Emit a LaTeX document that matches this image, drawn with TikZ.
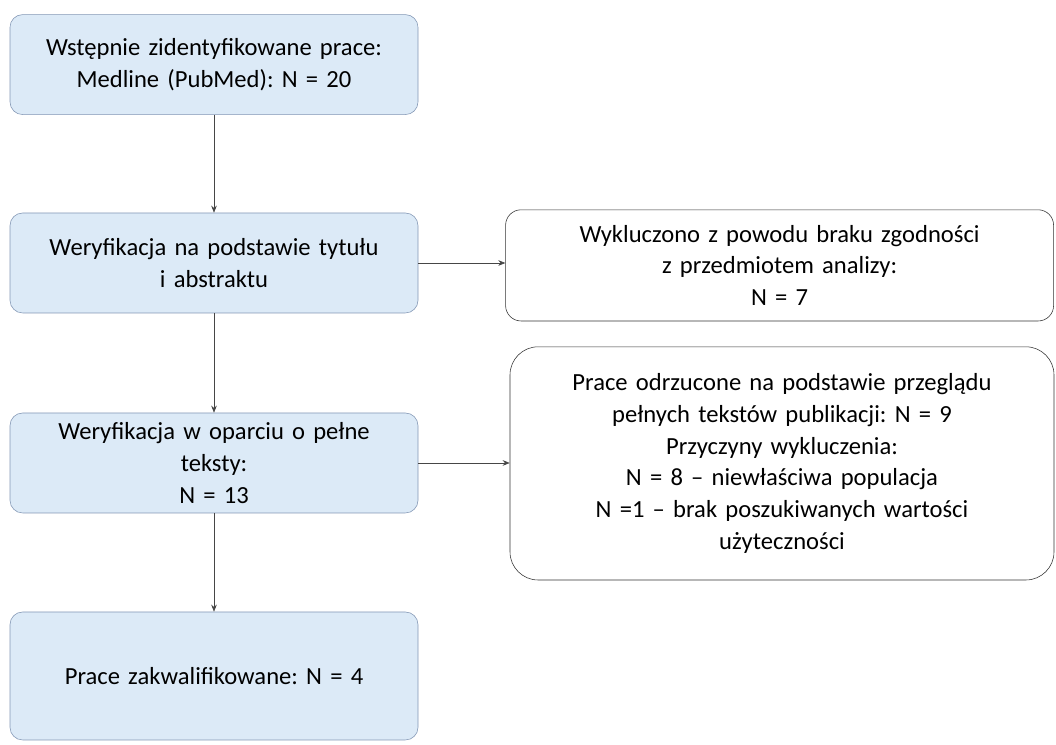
\documentclass[tikz,border=0pt]{standalone}
\usepackage{fontspec}
\setmainfont{Carlito}
\usetikzlibrary{arrows.meta, positioning}
\definecolor{boxblue}{RGB}{220, 234, 247}
\definecolor{boxedge}{RGB}{130, 150, 180}
\definecolor{linegray}{RGB}{70, 70, 70}
\frenchspacing

\begin{document}
\begin{tikzpicture}[
  fbox/.style={draw=boxedge, fill=boxblue, rounded corners=9pt, align=center, text width=9.8cm,
    minimum width=10.2cm, minimum height=2.5cm, inner sep=3pt, font=\fontsize{17.5}{22.5}\selectfont},
  xbox/.style={draw=black!80, fill=white, align=center, text width=13cm,
    minimum width=13.7cm, inner sep=3pt, font=\fontsize{17.5}{22.5}\selectfont},
  flow/.style={-{Stealth[length=5pt, width=4pt]}, draw=linegray, thin}
]
  \useasboundingbox (0, 0) rectangle (26.4, 18.625);

  \node[fbox] (ident) at (5.35, 17.01) {Wstępnie zidentyfikowane prace:\\Medline (PubMed): N = 20};
  \node[fbox] (screen) at (5.35, 12.05) {Weryfikacja na podstawie tytułu\\i abstraktu};
  \node[fbox] (fulltext) at (5.35, 7.05) {Weryfikacja w oparciu o pełne\\teksty:\\N = 13};
  \node[fbox, minimum height=3.2cm] (incl) at (5.35, 1.725) {Prace zakwalifikowane: N = 4};

  \node[xbox, rounded corners=11pt, minimum height=2.78cm] (excl1) at (19.49, 11.99) {
    Wykluczono z powodu braku zgodności\\z przedmiotem analizy:\\N = 7};
  \node[xbox, rounded corners=20pt, minimum width=13.6cm, minimum height=5.83cm] (excl2) at (19.55, 7.04) {
    Prace odrzucone na podstawie przeglądu\\pełnych tekstów publikacji: N = 9\\Przyczyny wykluczenia:\\
    N = 8 -- niewłaściwa populacja\\N =1 -- brak poszukiwanych wartości\\użyteczności};

  % Arrows
  \draw[flow] (ident) -- (screen);
  \draw[flow] (screen) -- (fulltext);
  \draw[flow] (fulltext) -- (incl);
  \draw[flow] (screen.east) -- (screen.east -| excl1.west);
  \draw[flow] (fulltext.east) -- (fulltext.east -| excl2.west);
\end{tikzpicture}
\end{document}
